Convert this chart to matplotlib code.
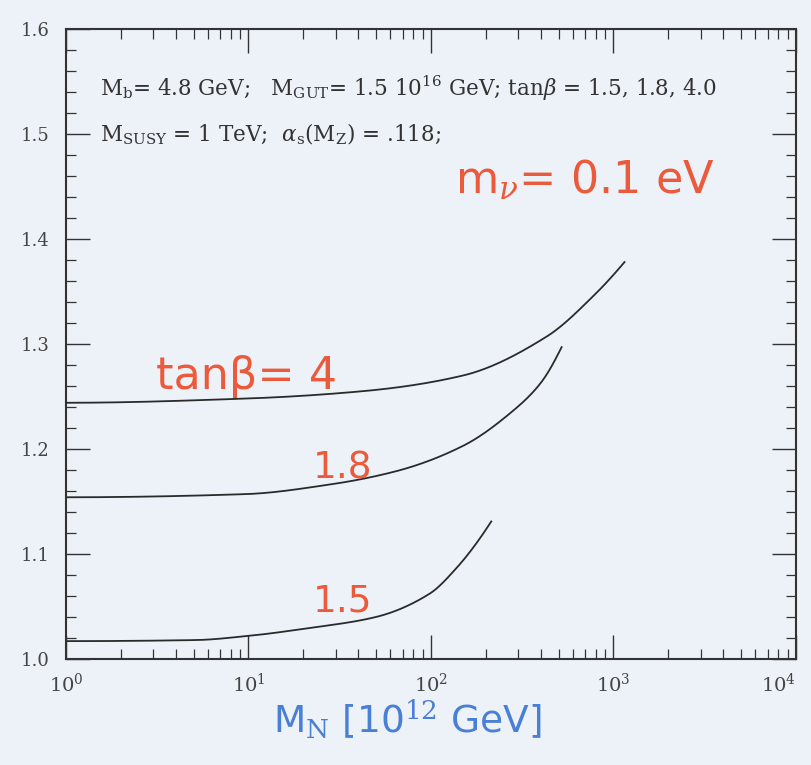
"""Yukawa ratio versus heavy right-handed neutrino mass for three tan(beta) values."""
import numpy as np
import matplotlib; matplotlib.use("Agg"); import matplotlib.pyplot as plt
from matplotlib.ticker import MultipleLocator, LogLocator, NullFormatter, FixedLocator, FormatStrFormatter

BG = "#edf2f8"
RED = "#ec5a3c"
BLUE = "#4a7fd6"

# M_N in units of 10^12 GeV, ratio on the y axis
mn_tb4 = [1.0, 9.6, 42, 150, 430, 800, 1150]
y_tb4 = [1.244, 1.248, 1.255, 1.270, 1.307, 1.348, 1.378]
mn_tb18 = [1.0, 9.6, 27.5, 65, 150, 280, 400, 520]
y_tb18 = [1.154, 1.157, 1.166, 1.179, 1.203, 1.236, 1.263, 1.297]
mn_tb15 = [1.0, 5.1, 10, 20.6, 50, 98, 137, 214]
y_tb15 = [1.017, 1.018, 1.022, 1.029, 1.040, 1.062, 1.086, 1.131]
curves = [(mn_tb4, y_tb4), (mn_tb18, y_tb18), (mn_tb15, y_tb15)]
labels = ["tanβ= 4", "1.8", "1.5"]
label_pos = [(3.1, 1.257), (22.5, 1.172), (22.5, 1.045)]
label_size = [32, 27, 27]


def pchip(x, y, xs):
    # monotone cubic Hermite, same end-slope rule as scipy's PchipInterpolator
    x = np.asarray(x, float); y = np.asarray(y, float)
    h = np.diff(x); d = np.diff(y) / h
    m = np.zeros_like(y)
    for i in range(1, len(x) - 1):
        if d[i - 1] * d[i] > 0:
            w1 = 2 * h[i] + h[i - 1]; w2 = h[i] + 2 * h[i - 1]
            m[i] = (w1 + w2) / (w1 / d[i - 1] + w2 / d[i])

    def edge(h0, h1, d0, d1):
        s = ((2 * h0 + h1) * d0 - h0 * d1) / (h0 + h1)
        if np.sign(s) != np.sign(d0):
            return 0.0
        if np.sign(d0) != np.sign(d1) and abs(s) > 3 * abs(d0):
            return 3 * d0
        return s
    m[0] = edge(h[0], h[1], d[0], d[1])
    m[-1] = edge(h[-1], h[-2], d[-1], d[-2])
    idx = np.clip(np.searchsorted(x, xs) - 1, 0, len(x) - 2)
    t = (xs - x[idx]) / h[idx]
    h00 = 2 * t**3 - 3 * t**2 + 1; h10 = t**3 - 2 * t**2 + t
    h01 = -2 * t**3 + 3 * t**2; h11 = t**3 - t**2
    return h00 * y[idx] + h10 * h[idx] * m[idx] + h01 * y[idx + 1] + h11 * h[idx] * m[idx + 1]


plt.rcParams["font.family"] = "DejaVu Serif"
plt.rcParams["mathtext.fontset"] = "dejavuserif"

fig = plt.figure(figsize=(8.11, 7.65), dpi=100, facecolor=BG)
ax = fig.add_axes([0.0814, 0.1386, 0.900, 0.8235], facecolor=BG)

for (x, y) in curves:
    lx = np.log10(x)
    xs = np.linspace(lx[0], lx[-1], 300)
    ax.plot(10 ** xs, pchip(lx, y, xs), color="#2a2a2a", lw=1.3)

for t, (px, py), fs in zip(labels, label_pos, label_size):
    ax.text(px, py, t, color=RED, fontsize=fs, family="DejaVu Sans", ha="left", va="baseline")

ax.text(0.533, 0.74, r"m$_\nu$= 0.1 eV", transform=ax.transAxes, color=RED,
        fontsize=32, family="DejaVu Sans", ha="left", va="baseline")

ax.text(0.047, 0.906, r"M$_{\rm b}$= 4.8 GeV;   M$_{\rm GUT}$= 1.5 10$^{16}$ GeV; tan$\beta$ = 1.5, 1.8, 4.0",
        transform=ax.transAxes, fontsize=15.5, ha="left", va="center", color="#333333")
ax.text(0.047, 0.832, r"M$_{\rm SUSY}$ = 1 TeV;  $\alpha_{\rm s}$(M$_{\rm Z}$) = .118;",
        transform=ax.transAxes, fontsize=15.5, ha="left", va="center", color="#333333")

ax.set_xscale("log")
ax.set_xlim(1, 1e4)
ax.set_ylim(1.0, 1.6)
ax.yaxis.set_major_locator(MultipleLocator(0.1))
ax.yaxis.set_minor_locator(MultipleLocator(0.02))
ax.yaxis.set_major_formatter(FormatStrFormatter("%.1f"))
ax.xaxis.set_major_locator(FixedLocator([1, 10, 100, 1000, 10000]))
ax.xaxis.set_minor_locator(LogLocator(base=10, subs=np.arange(2, 10)))
ax.xaxis.set_minor_formatter(NullFormatter())
ax.set_xticklabels([r"$10^{0}$", r"$10^{1}$", r"$10^{2}$", r"$10^{3}$", r"$10^{4}$"])
ax.tick_params(which="both", direction="in", top=True, right=True, colors="#333333",
               labelcolor="#444444")
ax.tick_params(axis="y", labelsize=13, pad=12)
ax.tick_params(axis="x", labelsize=14, pad=10)
ax.tick_params(which="major", length=17, width=1.0)
ax.tick_params(which="minor", length=7, width=0.9)
ax.get_xticklabels()[-1].set_ha("right")
for s in ax.spines.values():
    s.set_linewidth(1.5); s.set_color("#333333")

ax.set_xlabel(r"M$_{\rm N}$ [10$^{12}$ GeV]", color=BLUE, fontsize=27, family="DejaVu Sans")
ax.xaxis.set_label_coords(0.467, -0.062, transform=ax.transAxes)
ax.xaxis.label.set_va("top")

plt.savefig("out.png", dpi=100, facecolor=BG)
